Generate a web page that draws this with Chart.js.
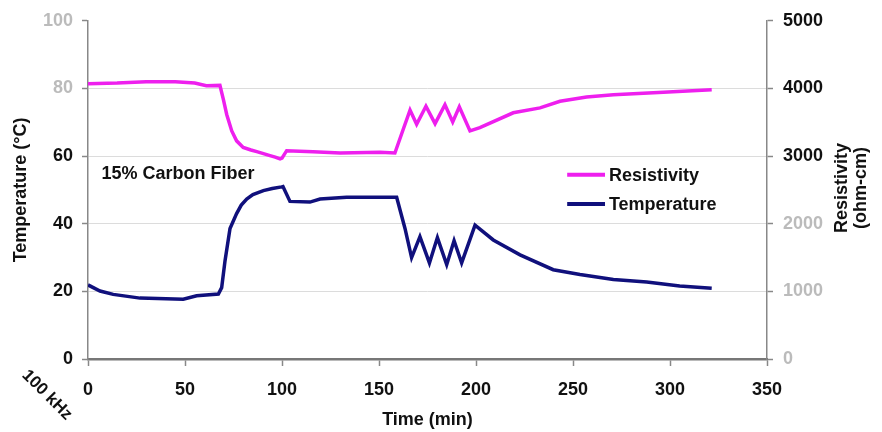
<!DOCTYPE html>
<html>
<head>
<meta charset="utf-8">
<script src="https://cdn.jsdelivr.net/npm/chart.js@4/dist/chart.umd.min.js"></script>
<style>
  html, body { margin: 0; padding: 0; background: #fff; }
  #wrap { width: 882px; height: 432px; }
</style>
</head>
<body>
<div id="wrap"><canvas id="chart" width="882" height="432"></canvas></div>
<script>
// time (min) and readings
const resTime = [0, 15, 30, 45, 55, 61, 68, 69.8, 71.5, 74.1, 76.6, 80, 84, 87, 90, 93.8, 96.5, 99, 100, 102.4, 116, 130, 150.5, 158.2,
  162.5, 166, 169.4, 174.2, 178.9, 184, 188, 191.4, 196.9, 202, 219.2, 233, 243.3, 257, 270.8, 296.6, 321.5];
const resValues = [4070, 4080, 4100, 4100, 4080, 4040, 4045, 3835, 3615, 3372, 3225, 3128, 3090, 3066, 3040, 3007, 2985, 2958, 2970, 3080, 3065, 3045, 3055, 3045,
  3396, 3680, 3470, 3737, 3480, 3760, 3505, 3728, 3372, 3421, 3640, 3713, 3811, 3874, 3908, 3943, 3980];

const tempTime = [0, 6.2, 13, 26.8, 49.1, 56, 67.2, 68.9, 70.6, 73.2, 76.6, 79, 81.8, 85, 90.4, 95, 99.8, 100.5, 104.1, 114.4, 119.6, 133.3, 150.5,
  159.1, 163.4, 166.8, 171.1, 176, 180.1, 184.9, 188.7, 192.6, 199.5, 208.9, 222.7, 239.8, 253.6, 270.8, 288, 305, 321.5];
const tempValues = [21.9, 20.1, 19.1, 18.0, 17.7, 18.7, 19.2, 21.1, 28.9, 38.6, 43, 45.5, 47.3, 48.6, 49.8, 50.4, 50.9, 51.0, 46.6, 46.4, 47.3, 47.8, 47.8,
  47.8, 38.6, 30.0, 36.2, 28.4, 35.9, 27.9, 35, 28.4, 39.6, 35.2, 30.8, 26.4, 25, 23.5, 22.8, 21.6, 20.9];

const tempTicks = [0, 20, 40, 60, 80, 100];
const resTicks = [0, 1000, 2000, 3000, 4000, 5000];
const timeTicks = [0, 50, 100, 150, 200, 250, 300, 350];
const greyTemp = [80, 100];
const greyRes = [0, 1000, 2000];

const MAGENTA = "#EE1FEE";
const NAVY = "#10107C";
const FONT = "'Liberation Sans', Arial, sans-serif";

function toPoints(xs, ys) {
  return xs.map((x, i) => ({ x: x, y: ys[i] }));
}

const extras = {
  id: "extras",
  afterDraw(chart) {
    const ctx = chart.ctx;
    const x = chart.scales.x;
    const y = chart.scales.y;
    const y1 = chart.scales.y1;
    ctx.save();

    // right axis title, two lines reading upwards
    ctx.fillStyle = "#111";
    ctx.font = "bold 18px " + FONT;
    ctx.textAlign = "center";
    ctx.textBaseline = "middle";
    ctx.save();
    ctx.translate(y1.left + 75, (y.top + y.bottom) / 2 - 2);
    ctx.rotate(-Math.PI / 2);
    ctx.fillText("Resistivity", 0, 0);
    ctx.fillText("(ohm-cm)", 0, 19);
    ctx.restore();

    // frequency note
    ctx.save();
    ctx.font = "bold 17px " + FONT;
    ctx.translate(47, 395);
    ctx.rotate(Math.PI / 4);
    ctx.fillText("100 kHz", 0, 0);
    ctx.restore();

    // sample label
    ctx.font = "bold 18px " + FONT;
    ctx.textAlign = "left";
    ctx.fillText("15% Carbon Fiber", x.getPixelForValue(7), y.getPixelForValue(54.6));

    // legend
    const items = [["Resistivity", MAGENTA, 54.5], ["Temperature", NAVY, 45.8]];
    ctx.font = "bold 18px " + FONT;
    items.forEach(([label, color, v]) => {
      const py = y.getPixelForValue(v);
      ctx.strokeStyle = color;
      ctx.lineWidth = 4;
      ctx.beginPath();
      ctx.moveTo(x.getPixelForValue(247), py);
      ctx.lineTo(x.getPixelForValue(266.5), py);
      ctx.stroke();
      ctx.fillStyle = "#111";
      ctx.fillText(label, x.getPixelForValue(268.5), py + 1);
    });
    ctx.restore();
  }
};

new Chart(document.getElementById("chart").getContext("2d"), {
  type: "line",
  data: {
    datasets: [
      {
        label: "Resistivity",
        data: toPoints(resTime, resValues),
        yAxisID: "y1",
        borderColor: MAGENTA,
        borderWidth: 3.5,
        pointRadius: 0,
        tension: 0
      },
      {
        label: "Temperature",
        data: toPoints(tempTime, tempValues),
        yAxisID: "y",
        borderColor: NAVY,
        borderWidth: 3.5,
        pointRadius: 0,
        tension: 0
      }
    ]
  },
  options: {
    responsive: false,
    animation: false,
    layout: { padding: { top: 16, left: 0, right: 0, bottom: 0 } },
    plugins: {
      legend: { display: false },
      tooltip: { enabled: false }
    },
    scales: {
      x: {
        type: "linear",
        min: 0,
        max: 350,
        afterBuildTicks: s => { s.ticks = timeTicks.map(v => ({ value: v })); },
        afterFit: s => { s.height = 73; },
        border: { color: "#777", width: 2.5 },
        grid: { drawOnChartArea: false, tickLength: 7, tickColor: "#888", tickWidth: 1.5 },
        ticks: { color: "#111", padding: 13, maxRotation: 0, font: { family: FONT, size: 18, weight: "bold" } },
        title: { display: true, text: "Time (min)", color: "#111", padding: { top: 0, bottom: 1 }, font: { family: FONT, size: 18, weight: "bold" } }
      },
      y: {
        position: "left",
        min: 0,
        max: 100,
        afterBuildTicks: s => { s.ticks = tempTicks.map(v => ({ value: v })); },
        afterFit: s => { s.width = 88; },
        border: { color: "#888", width: 1.5 },
        grid: {
          color: c => (c.tick && (c.tick.value === 0 || c.tick.value === 100)) ? "rgba(0,0,0,0)" : "#DCDCDC",
          lineWidth: 1,
          tickLength: 6,
          tickColor: "#888",
          tickWidth: 1.5
        },
        ticks: {
          padding: 9,
          color: c => greyTemp.includes(c.tick.value) ? "#BBBBBB" : "#111",
          font: { family: FONT, size: 18, weight: "bold" }
        },
        title: { display: true, text: "Temperature (°C)", color: "#111", padding: { top: 10, bottom: 0 }, font: { family: FONT, size: 18, weight: "bold" } }
      },
      y1: {
        position: "right",
        min: 0,
        max: 5000,
        afterBuildTicks: s => { s.ticks = resTicks.map(v => ({ value: v })); },
        afterFit: s => { s.width = 115; },
        border: { color: "#888", width: 1.5 },
        grid: { drawOnChartArea: false, tickLength: 6, tickColor: "#888", tickWidth: 1.5 },
        ticks: {
          padding: 10,
          callback: v => String(v),
          color: c => greyRes.includes(c.tick.value) ? "#BBBBBB" : "#111",
          font: { family: FONT, size: 18, weight: "bold" }
        }
      }
    }
  },
  plugins: [extras]
});
</script>
</body>
</html>
